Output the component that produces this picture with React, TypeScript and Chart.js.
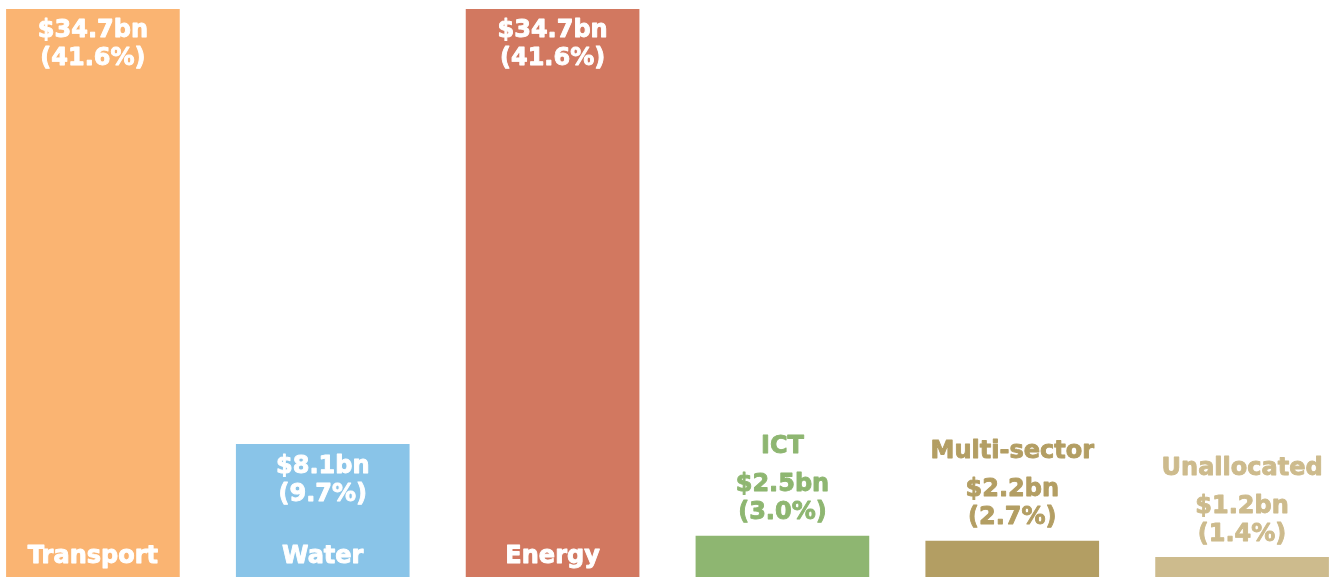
import React, { useEffect, useRef } from "react";
import { Chart, registerables } from "chart.js";

Chart.register(...registerables);

const categories = ["Transport", "Water", "Energy", "ICT", "Multi-sector", "Unallocated"];
const values = [34.7, 8.1, 34.7, 2.5, 2.2, 1.2];
const percents = [41.6, 9.7, 41.6, 3.0, 2.7, 1.4];
const colors = ["#FAB472", "#89C4E8", "#D27860", "#8EB671", "#B39E63", "#CDBB8D"];

const FONT = "'DejaVu Sans', sans-serif";

const labelPlugin = {
  id: "barLabels",
  afterDatasetsDraw(chart: any) {
    const ctx = chart.ctx;
    const meta = chart.getDatasetMeta(0);
    ctx.save();
    ctx.textAlign = "center";
    ctx.textBaseline = "middle";
    ctx.font = `bold 24px ${FONT}`;
    ctx.lineWidth = 0.9;
    ctx.lineJoin = "round";
    const put = (t: string, x: number, y: number) => {
      ctx.fillText(t, x, y + 2);
      ctx.strokeText(t, x, y + 2);
    };
    meta.data.forEach((bar: any, i: number) => {
      const x = bar.x;
      const top = bar.y;
      const base = bar.base;
      const valText = `$${values[i].toFixed(1)}bn`;
      const pctText = `(${percents[i].toFixed(1)}%)`;
      if (values[i] > 5) {
        ctx.fillStyle = "#ffffff";
        ctx.strokeStyle = "#ffffff";
        put(valText, x, top + 20);
        put(pctText, x, top + 48);
        put(categories[i], x, base - 22);
      } else {
        ctx.fillStyle = colors[i];
        ctx.strokeStyle = colors[i];
        put(pctText, x, top - 25);
        put(valText, x, top - 53);
        put(categories[i], x, top - 91);
      }
    });
    ctx.restore();
  },
};

export default function App() {
  const ref = useRef<HTMLCanvasElement>(null);
  useEffect(() => {
    document.body.style.margin = "0";
    const chart = new Chart(ref.current!, {
      type: "bar",
      data: {
        labels: categories,
        datasets: [
          {
            data: values,
            backgroundColor: colors,
            borderWidth: 0,
            barThickness: 173,
          },
        ],
      },
      options: {
        animation: false,
        responsive: false,
        maintainAspectRatio: false,
        layout: { padding: { top: 9, left: 0, right: 0, bottom: 0 } },
        plugins: { legend: { display: false }, tooltip: { enabled: false } },
        scales: {
          x: { display: false, offset: true },
          y: { display: false, min: 0, max: 34.7 },
        },
      },
      plugins: [labelPlugin],
    });
    return () => chart.destroy();
  }, []);
  return (
    <div style={{ position: "fixed", left: -22, top: 0, width: 1379, height: 577 }}>
      <canvas ref={ref} width={1379} height={577} style={{ display: "block" }} />
    </div>
  );
}
